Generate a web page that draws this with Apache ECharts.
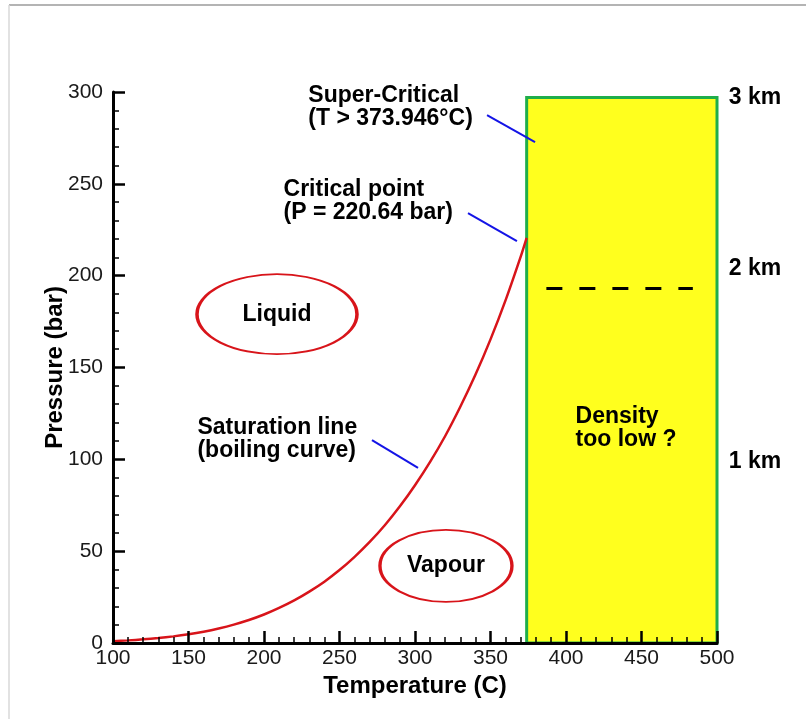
<!DOCTYPE html>
<html>
<head>
<meta charset="utf-8">
<script src="https://cdn.jsdelivr.net/npm/echarts@6/dist/echarts.min.js"></script>
<style>
html, body { margin: 0; padding: 0; background: #fff; }
#chart { width: 806px; height: 719px; }
</style>
</head>
<body>
<div id="chart"></div>
<script>
// saturation line of water (temperature in C, pressure in bar)
var tempC = [100, 110, 120, 130, 140, 150, 160, 170, 180, 190, 200, 210, 220, 230, 240,
	250, 260, 270, 280, 290, 300, 310, 320, 330, 340, 350, 360, 370, 373.946];
var pressureBar = [1.01, 1.43, 1.99, 2.70, 3.61, 4.76, 6.18, 7.92, 10.0, 12.5, 15.5, 19.1, 23.2, 28.0, 33.4,
	39.7, 46.9, 55.0, 64.1, 74.4, 85.9, 98.6, 112.7, 128.6, 146.0, 165.3, 186.7, 210.4, 220.64];

// super-critical box and depth marks
var criticalT = 373.946;
var boxTopP = 297;
var depthNames = ['3 km', '2 km', '1 km'];
var depthP = [297, 204, 98.5];
var dashT = [387, 484];
var dashP = 193;

// axis ticks
var xTicks = [100, 500, 50];
var yTicks = [0, 300, 50];

var FONT = 'Liberation Sans, Arial, sans-serif';
var noteStyle = { fontFamily: FONT, fontSize: 23, fontWeight: 'bold', color: '#000', lineHeight: 23, textBorderWidth: 0 };

var chart = echarts.init(document.getElementById('chart'));

function noteSeries(text, t, p) {
	return {
		type: 'scatter', symbolSize: 1, clip: false, silent: true,
		itemStyle: { color: 'transparent', opacity: 1 },
		label: Object.assign({ show: true, position: 'right', distance: 0, formatter: text }, noteStyle),
		data: [[t, p]]
	};
}
function leader(a, b) {
	return {
		type: 'line', symbol: 'none', silent: true,
		lineStyle: { color: '#1414e6', width: 2 },
		data: [a, b]
	};
}
function bubble(text, t, p, size) {
	return {
		type: 'scatter', symbol: 'circle', symbolSize: size, silent: true,
		itemStyle: { color: '#fff', borderColor: '#d8141a', borderWidth: 2.5, opacity: 1 },
		label: Object.assign({ show: true, position: 'inside', formatter: text }, noteStyle),
		data: [[t, p]]
	};
}

var curve = [];
for (var i = 0; i < tempC.length; i++) {
	curve.push([tempC[i], pressureBar[i]]);
}

var series = [
	{
		type: 'line', symbol: 'none', silent: true, z: 1,
		data: [],
		markArea: {
			silent: true,
			itemStyle: { color: '#ffff1e', borderColor: '#1fae4a', borderWidth: 3, opacity: 1 },
			data: [[{ coord: [criticalT, 0] }, { coord: [xTicks[1], boxTopP] }]]
		}
	},
	{
		type: 'line', symbol: 'none', silent: true, smooth: 0.2,
		lineStyle: { color: '#d8141a', width: 2.5 },
		data: curve
	},
	{
		type: 'line', symbol: 'none', silent: true,
		lineStyle: { color: '#000', width: 3, type: [16, 17] },
		data: [[dashT[0], dashP], [dashT[1], dashP]]
	},
	leader([347.7, 287.4], [379.5, 272.7]),
	leader([335.1, 234.1], [367.5, 218.8]),
	leader([271.5, 110.5], [302, 95.3]),
	noteSeries('Super-Critical\n(T > 373.946°C)', 229, 292),
	noteSeries('Critical point\n(P = 220.64 bar)', 212.6, 240.6),
	noteSeries('Saturation line\n(boiling curve)', 155.6, 110.8),
	noteSeries('Density\ntoo low ?', 406, 117),
	bubble('Liquid', 208.6, 179, [160, 80]),
	bubble('Vapour', 320.5, 42, [132, 72])
];
for (var k = 0; k < depthNames.length; k++) {
	series.push(noteSeries(depthNames[k], 507.5, depthP[k]));
}

var option = {
	animation: false,
	backgroundColor: '#fff',
	grid: { left: 113, right: 89, top: 92, bottom: 76, outerBoundsMode: 'none' },
	graphic: [
		{ type: 'line', shape: { x1: 9, y1: 5, x2: 806, y2: 5 }, style: { stroke: '#b4b4b4', lineWidth: 2 } },
		{ type: 'line', shape: { x1: 9, y1: 5, x2: 9, y2: 719 }, style: { stroke: '#d8d8d8', lineWidth: 1.5 } }
	],
	xAxis: {
		type: 'value', min: xTicks[0], max: xTicks[1], interval: xTicks[2], z: 10,
		name: 'Temperature (C)', nameLocation: 'middle', nameGap: 31, nameMoveOverlap: false,
		nameTextStyle: { fontFamily: FONT, fontSize: 24, fontWeight: 'bold', color: '#000' },
		axisLine: { show: true, onZero: false, lineStyle: { color: '#000', width: 3 } },
		axisTick: { show: true, inside: true, length: 12, lineStyle: { color: '#000', width: 2.5 } },
		minorTick: { show: true, splitNumber: 5, length: 6, lineStyle: { color: '#000', width: 1.5 } },
		splitLine: { show: false },
		axisLabel: { fontFamily: FONT, fontSize: 21, color: '#1a1a1a', margin: 5, showMinLabel: true, showMaxLabel: true }
	},
	yAxis: {
		type: 'value', min: yTicks[0], max: yTicks[1], interval: yTicks[2], z: 10,
		name: 'Pressure (bar)', nameLocation: 'middle', nameGap: 46, nameMoveOverlap: false,
		nameTextStyle: { fontFamily: FONT, fontSize: 24, fontWeight: 'bold', color: '#000' },
		axisLine: { show: true, onZero: false, lineStyle: { color: '#000', width: 3 } },
		axisTick: { show: true, inside: true, length: 12, lineStyle: { color: '#000', width: 2.5 } },
		minorTick: { show: true, splitNumber: 5, length: 6, lineStyle: { color: '#000', width: 1.5 } },
		splitLine: { show: false },
		axisLabel: { fontFamily: FONT, fontSize: 21, color: '#1a1a1a', margin: 10, showMinLabel: true, showMaxLabel: true }
	},
	series: series
};
chart.setOption(option);
</script>
</body>
</html>
